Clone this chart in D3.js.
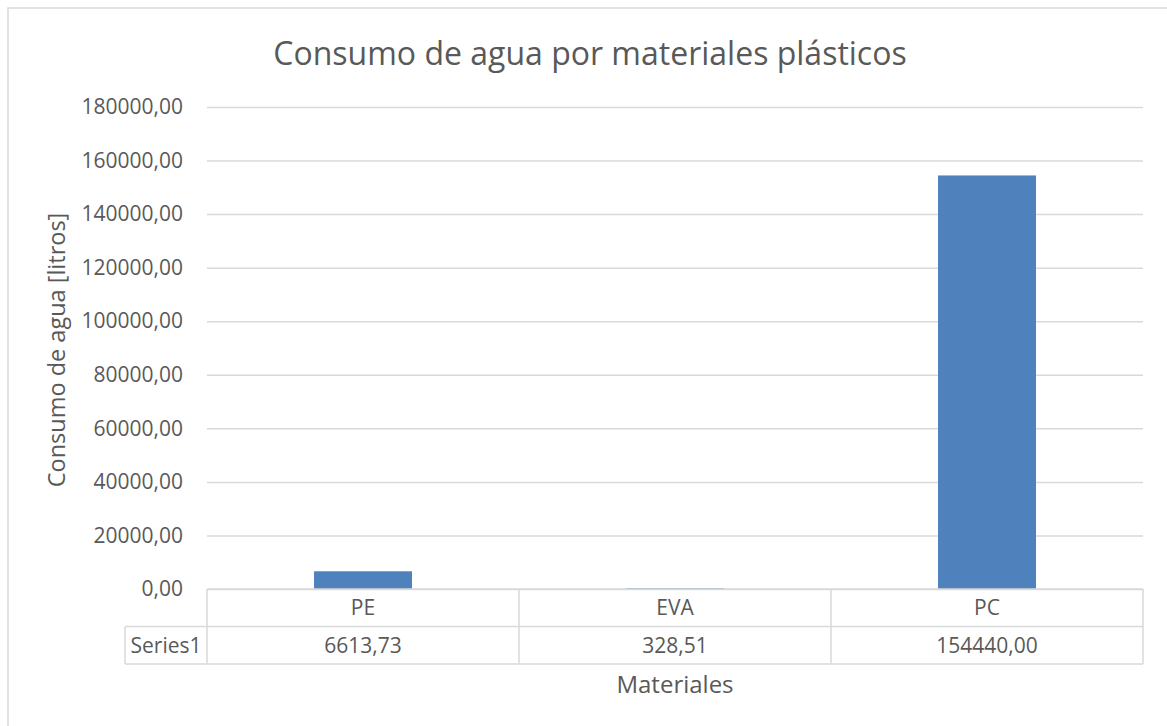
<!DOCTYPE html>
<html>
<head>
<meta charset="utf-8">
<script src="https://cdn.jsdelivr.net/npm/d3@7"></script>
<style>
  html, body { margin: 0; padding: 0; background: #fff; }
  svg { display: block; font-family: "Open Sans", "Noto Sans", sans-serif; }
</style>
</head>
<body>
<svg id="chart" width="1167" height="726"></svg>
<script>
// Water consumption per plastic material (litres)
const categories = ["PE", "EVA", "PC"];
const values = [6613.73, 328.51, 154440.00];
const seriesName = "Series1";
const yTicks = [0, 20000, 40000, 60000, 80000, 100000, 120000, 140000, 160000, 180000];
const chartTitle = "Consumo de agua por materiales plásticos";
const yTitle = "Consumo de agua [litros]";
const xTitle = "Materiales";

const svg = d3.select("#chart");
const textColor = "#595959";
const lineColor = "#D9D9D9";
const barColor = "#4F81BD";

const plot = { left: 207, right: 1143, top: 107, bottom: 589 };
const rowH = 37.5;
const headerLeft = 125;

const fmt = v => d3.format(".2f")(v).replace(".", ",");

const x = d3.scaleBand().domain(categories).range([plot.left, plot.right]).paddingInner(0).paddingOuter(0);
const y = d3.scaleLinear().domain([0, 180000]).range([plot.bottom, plot.top]);

// chart area border (left and top edges fall inside the view)
svg.append("rect")
  .attr("x", 8).attr("y", 8).attr("width", 1180).attr("height", 740)
  .attr("fill", "none").attr("stroke", lineColor).attr("stroke-width", 1.5);

// title
svg.append("text")
  .attr("x", 590).attr("y", 65)
  .attr("text-anchor", "middle")
  .attr("font-size", 32).attr("fill", textColor)
  .text(chartTitle);

// horizontal gridlines + value labels
const yAxis = d3.axisLeft(y).tickValues(yTicks).tickSize(-(plot.right - plot.left)).tickPadding(24).tickFormat(fmt);
const gy = svg.append("g").attr("transform", `translate(${plot.left},0)`).call(yAxis);
gy.select(".domain").remove();
gy.selectAll(".tick line").attr("stroke", lineColor).attr("stroke-width", 1.5);
gy.selectAll(".tick text").attr("fill", textColor).attr("font-size", 21)
  .attr("font-family", "'Open Sans', sans-serif");

// bars
const barW = x.bandwidth() * 0.314;
svg.append("g").selectAll("rect").data(values).join("rect")
  .attr("x", (d, i) => x(categories[i]) + (x.bandwidth() - barW) / 2)
  .attr("y", d => y(d))
  .attr("width", barW)
  .attr("height", d => y(0) - y(d))
  .attr("fill", barColor);

// data table under the plot
const table = svg.append("g").attr("stroke", lineColor).attr("stroke-width", 1.5).attr("fill", "none");
table.append("line").attr("x1", plot.left).attr("x2", plot.right).attr("y1", plot.bottom).attr("y2", plot.bottom);
table.append("line").attr("x1", headerLeft).attr("x2", plot.right).attr("y1", plot.bottom + rowH).attr("y2", plot.bottom + rowH);
table.append("line").attr("x1", headerLeft).attr("x2", plot.right).attr("y1", plot.bottom + 2 * rowH).attr("y2", plot.bottom + 2 * rowH);
table.append("line").attr("x1", headerLeft).attr("x2", headerLeft).attr("y1", plot.bottom + rowH).attr("y2", plot.bottom + 2 * rowH);
const edges = categories.map(c => x(c)).concat([plot.right]);
table.selectAll("line.v").data(edges).join("line").attr("class", "v")
  .attr("x1", d => d).attr("x2", d => d)
  .attr("y1", plot.bottom).attr("y2", plot.bottom + 2 * rowH);

const cellText = svg.append("g").attr("fill", textColor).attr("font-size", 21).attr("text-anchor", "middle");
cellText.selectAll("text.cat").data(categories).join("text").attr("class", "cat")
  .attr("x", d => x(d) + x.bandwidth() / 2)
  .attr("y", plot.bottom + 26)
  .text(d => d);
cellText.selectAll("text.val").data(values).join("text").attr("class", "val")
  .attr("x", (d, i) => x(categories[i]) + x.bandwidth() / 2)
  .attr("y", plot.bottom + rowH + 26)
  .text(d => fmt(d));
cellText.append("text")
  .attr("x", (headerLeft + plot.left) / 2).attr("y", plot.bottom + rowH + 26)
  .text(seriesName);

// axis titles
svg.append("text")
  .attr("x", 675).attr("y", 693)
  .attr("text-anchor", "middle").attr("font-size", 24).attr("fill", textColor)
  .text(xTitle);
svg.append("text")
  .attr("transform", "translate(65,350) rotate(-90)")
  .attr("text-anchor", "middle").attr("font-size", 23.5).attr("fill", textColor)
  .text(yTitle);
</script>
</body>
</html>
